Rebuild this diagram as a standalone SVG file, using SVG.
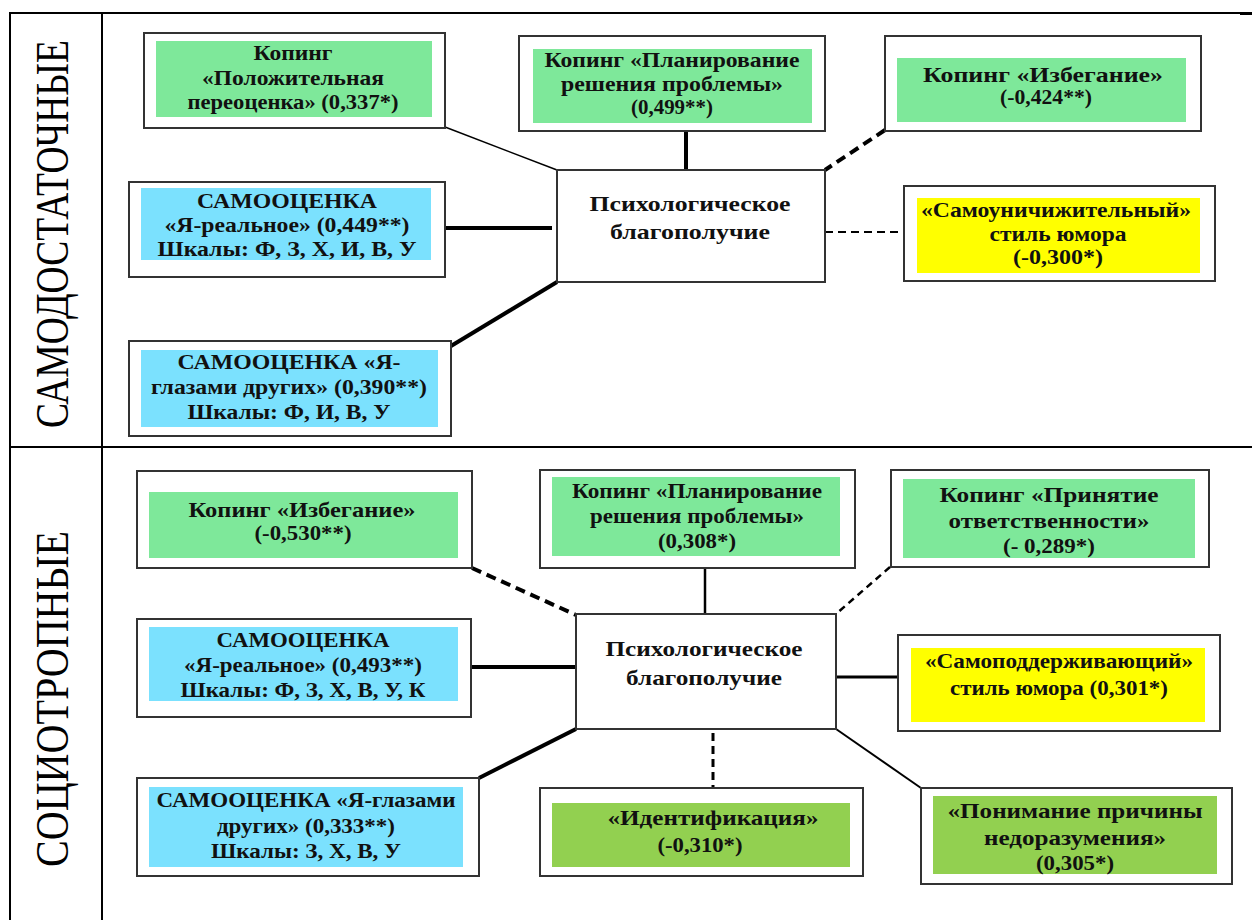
<svg xmlns="http://www.w3.org/2000/svg" width="1252" height="920" viewBox="0 0 1252 920">
<style>
.frame{fill:#fff;stroke:#333;stroke-width:2}
.g1{fill:#7EE89A}
.bl{fill:#7BE1FE}
.ye{fill:#FFFF00}
.g2{fill:#92D050}
.t{font-family:"Liberation Serif","Times New Roman",serif;font-weight:bold;font-size:21.5px;fill:#111;text-anchor:middle}
.side{font-family:"Liberation Serif","Times New Roman",serif;font-size:46px;fill:#000;text-anchor:middle}
.tbl{stroke:#000;stroke-width:2;fill:none}
.c{stroke:#000;fill:none}
</style>
<rect width="1252" height="920" fill="#fff"/>
<g id="table">
<line class="tbl" x1="10" y1="13" x2="1252" y2="13"/>
<line class="tbl" x1="1240" y1="14" x2="1252" y2="14" stroke-width="3"/>
<line class="tbl" x1="10" y1="12" x2="10" y2="920" stroke-width="2.5"/>
<line class="tbl" x1="102" y1="12" x2="102" y2="920" stroke-width="2.5"/>
<line class="tbl" x1="10" y1="447" x2="1252" y2="447"/>
<text class="side" transform="translate(68,234) rotate(-90)" textLength="388" lengthAdjust="spacingAndGlyphs">САМОДОСТАТОЧНЫЕ</text>
<text class="side" transform="translate(68,699) rotate(-90)" textLength="336" lengthAdjust="spacingAndGlyphs">СОЦИОТРОПНЫЕ</text>
</g>
<g id="connectors">
<line class="c" x1="445" y1="127" x2="557" y2="170" stroke="#555" stroke-width="1.5"/>
<line class="c" x1="686" y1="131" x2="686" y2="170" stroke-width="4"/>
<line class="c" x1="885" y1="130" x2="825" y2="170" stroke-width="4" stroke-dasharray="10 6"/>
<line class="c" x1="445" y1="228" x2="552" y2="228" stroke-width="4"/>
<line class="c" x1="825" y1="232" x2="904" y2="232" stroke-width="2" stroke-dasharray="8 5"/>
<line class="c" x1="451" y1="346" x2="557" y2="282" stroke-width="4"/>
<line class="c" x1="472" y1="568" x2="576" y2="615" stroke-width="4" stroke-dasharray="10 6"/>
<line class="c" x1="705" y1="568" x2="705" y2="614" stroke-width="2.5"/>
<line class="c" x1="890" y1="567" x2="836" y2="614" stroke-width="2.5" stroke-dasharray="7 5"/>
<line class="c" x1="471" y1="667" x2="576" y2="667" stroke-width="4"/>
<line class="c" x1="836" y1="677" x2="898" y2="677" stroke-width="3"/>
<line class="c" x1="479" y1="778" x2="576" y2="729" stroke-width="4"/>
<line class="c" x1="713" y1="733" x2="713" y2="788" stroke-width="3" stroke-dasharray="8 5"/>
<line class="c" x1="836" y1="729" x2="921" y2="788" stroke-width="2"/>
</g>
<g id="coping-positive">
<rect class="frame" x="144" y="33" width="301" height="95"/>
<rect class="g1" x="156" y="41" width="276" height="76"/>
<text class="t" x="293" y="60" textLength="79" lengthAdjust="spacingAndGlyphs">Копинг</text>
<text class="t" x="293" y="85" textLength="182" lengthAdjust="spacingAndGlyphs">«Положительная</text>
<text class="t" x="293" y="109" textLength="211" lengthAdjust="spacingAndGlyphs">переоценка» (0,337*)</text>
</g>
<g id="coping-planning-1">
<rect class="frame" x="519" y="36" width="306" height="95"/>
<rect class="g1" x="533" y="49" width="279" height="74"/>
<text class="t" x="672" y="67" textLength="255" lengthAdjust="spacingAndGlyphs">Копинг «Планирование</text>
<text class="t" x="672" y="91" textLength="222" lengthAdjust="spacingAndGlyphs">решения проблемы»</text>
<text class="t" x="672" y="114" textLength="82" lengthAdjust="spacingAndGlyphs">(0,499**)</text>
</g>
<g id="coping-avoid-1">
<rect class="frame" x="885" y="36" width="316" height="95"/>
<rect class="g1" x="897" y="58" width="289" height="64"/>
<text class="t" x="1043" y="82" textLength="240" lengthAdjust="spacingAndGlyphs">Копинг «Избегание»</text>
<text class="t" x="1046" y="104" textLength="92" lengthAdjust="spacingAndGlyphs">(-0,424**)</text>
</g>
<g id="self-real-1">
<rect class="frame" x="129" y="182" width="316" height="95"/>
<rect class="bl" x="141" y="188" width="290" height="72"/>
<text class="t" x="287" y="208" textLength="180" lengthAdjust="spacingAndGlyphs">САМООЦЕНКА</text>
<text class="t" x="287" y="232" textLength="245" lengthAdjust="spacingAndGlyphs">«Я-реальное» (0,449**)</text>
<text class="t" x="287" y="256" textLength="259" lengthAdjust="spacingAndGlyphs">Шкалы: Ф, З, Х, И, В, У</text>
</g>
<g id="self-others-1">
<rect class="frame" x="129" y="341" width="322" height="95"/>
<rect class="bl" x="141" y="350" width="297" height="77"/>
<text class="t" x="289" y="369" textLength="223" lengthAdjust="spacingAndGlyphs">САМООЦЕНКА «Я-</text>
<text class="t" x="289" y="394" textLength="276" lengthAdjust="spacingAndGlyphs">глазами других» (0,390**)</text>
<text class="t" x="289" y="419" textLength="203" lengthAdjust="spacingAndGlyphs">Шкалы: Ф, И, В, У</text>
</g>
<g id="wellbeing-1">
<rect class="frame" x="557" y="170" width="268" height="112"/>
<text class="t" x="690" y="211" textLength="201" lengthAdjust="spacingAndGlyphs">Психологическое</text>
<text class="t" x="690" y="239" textLength="160" lengthAdjust="spacingAndGlyphs">благополучие</text>
</g>
<g id="humor-self-defeating">
<rect class="frame" x="904" y="186" width="311" height="95"/>
<rect class="ye" x="917" y="198" width="283" height="75"/>
<text class="t" x="1056" y="217" textLength="270" lengthAdjust="spacingAndGlyphs">«Самоуничижительный»</text>
<text class="t" x="1058" y="241" textLength="137" lengthAdjust="spacingAndGlyphs">стиль юмора</text>
<text class="t" x="1058" y="264" textLength="90" lengthAdjust="spacingAndGlyphs">(-0,300*)</text>
</g>
<g id="coping-avoid-2">
<rect class="frame" x="137" y="471" width="335" height="97"/>
<rect class="g1" x="149" y="492" width="309" height="66"/>
<text class="t" x="302" y="517" textLength="227" lengthAdjust="spacingAndGlyphs">Копинг «Избегание»</text>
<text class="t" x="303" y="540" textLength="97" lengthAdjust="spacingAndGlyphs">(-0,530**)</text>
</g>
<g id="coping-planning-2">
<rect class="frame" x="540" y="470" width="315" height="98"/>
<rect class="g1" x="552" y="477" width="288" height="79"/>
<text class="t" x="697" y="498" textLength="250" lengthAdjust="spacingAndGlyphs">Копинг «Планирование</text>
<text class="t" x="697" y="523" textLength="214" lengthAdjust="spacingAndGlyphs">решения проблемы»</text>
<text class="t" x="697" y="548" textLength="78" lengthAdjust="spacingAndGlyphs">(0,308*)</text>
</g>
<g id="coping-responsibility">
<rect class="frame" x="891" y="470" width="318" height="97"/>
<rect class="g1" x="903" y="479" width="292" height="79"/>
<text class="t" x="1049" y="502" textLength="219" lengthAdjust="spacingAndGlyphs">Копинг «Принятие</text>
<text class="t" x="1049" y="528" textLength="201" lengthAdjust="spacingAndGlyphs">ответственности»</text>
<text class="t" x="1049" y="553" textLength="92" lengthAdjust="spacingAndGlyphs">(- 0,289*)</text>
</g>
<g id="self-real-2">
<rect class="frame" x="137" y="619" width="334" height="98"/>
<rect class="bl" x="149" y="627" width="309" height="74"/>
<text class="t" x="303" y="647" textLength="173" lengthAdjust="spacingAndGlyphs">САМООЦЕНКА</text>
<text class="t" x="303" y="672" textLength="238" lengthAdjust="spacingAndGlyphs">«Я-реальное» (0,493**)</text>
<text class="t" x="303" y="697" textLength="245" lengthAdjust="spacingAndGlyphs">Шкалы: Ф, З, Х, В, У, К</text>
</g>
<g id="wellbeing-2">
<rect class="frame" x="576" y="614" width="260" height="115"/>
<text class="t" x="704" y="656" textLength="197" lengthAdjust="spacingAndGlyphs">Психологическое</text>
<text class="t" x="704" y="685" textLength="156" lengthAdjust="spacingAndGlyphs">благополучие</text>
</g>
<g id="humor-self-enhancing">
<rect class="frame" x="898" y="635" width="322" height="96"/>
<rect class="ye" x="911" y="648" width="294" height="74"/>
<text class="t" x="1059" y="668" textLength="268" lengthAdjust="spacingAndGlyphs">«Самоподдерживающий»</text>
<text class="t" x="1059" y="695" textLength="218" lengthAdjust="spacingAndGlyphs">стиль юмора (0,301*)</text>
</g>
<g id="self-others-2">
<rect class="frame" x="137" y="778" width="342" height="98"/>
<rect class="bl" x="149" y="787" width="314" height="80"/>
<text class="t" x="306" y="807" textLength="299" lengthAdjust="spacingAndGlyphs">САМООЦЕНКА «Я-глазами</text>
<text class="t" x="306" y="833" textLength="178" lengthAdjust="spacingAndGlyphs">других» (0,333**)</text>
<text class="t" x="306" y="858" textLength="190" lengthAdjust="spacingAndGlyphs">Шкалы: З, Х, В, У</text>
</g>
<g id="identification">
<rect class="frame" x="540" y="788" width="323" height="88"/>
<rect class="g2" x="552" y="803" width="298" height="64"/>
<text class="t" x="713" y="825" textLength="211" lengthAdjust="spacingAndGlyphs">«Идентификация»</text>
<text class="t" x="700" y="852" textLength="85" lengthAdjust="spacingAndGlyphs">(-0,310*)</text>
</g>
<g id="understanding">
<rect class="frame" x="921" y="788" width="311" height="96"/>
<rect class="g2" x="933" y="796" width="284" height="78"/>
<text class="t" x="1075" y="818" textLength="255" lengthAdjust="spacingAndGlyphs">«Понимание причины</text>
<text class="t" x="1075" y="845" textLength="182" lengthAdjust="spacingAndGlyphs">недоразумения»</text>
<text class="t" x="1075" y="870" textLength="78" lengthAdjust="spacingAndGlyphs">(0,305*)</text>
</g>
</svg>
